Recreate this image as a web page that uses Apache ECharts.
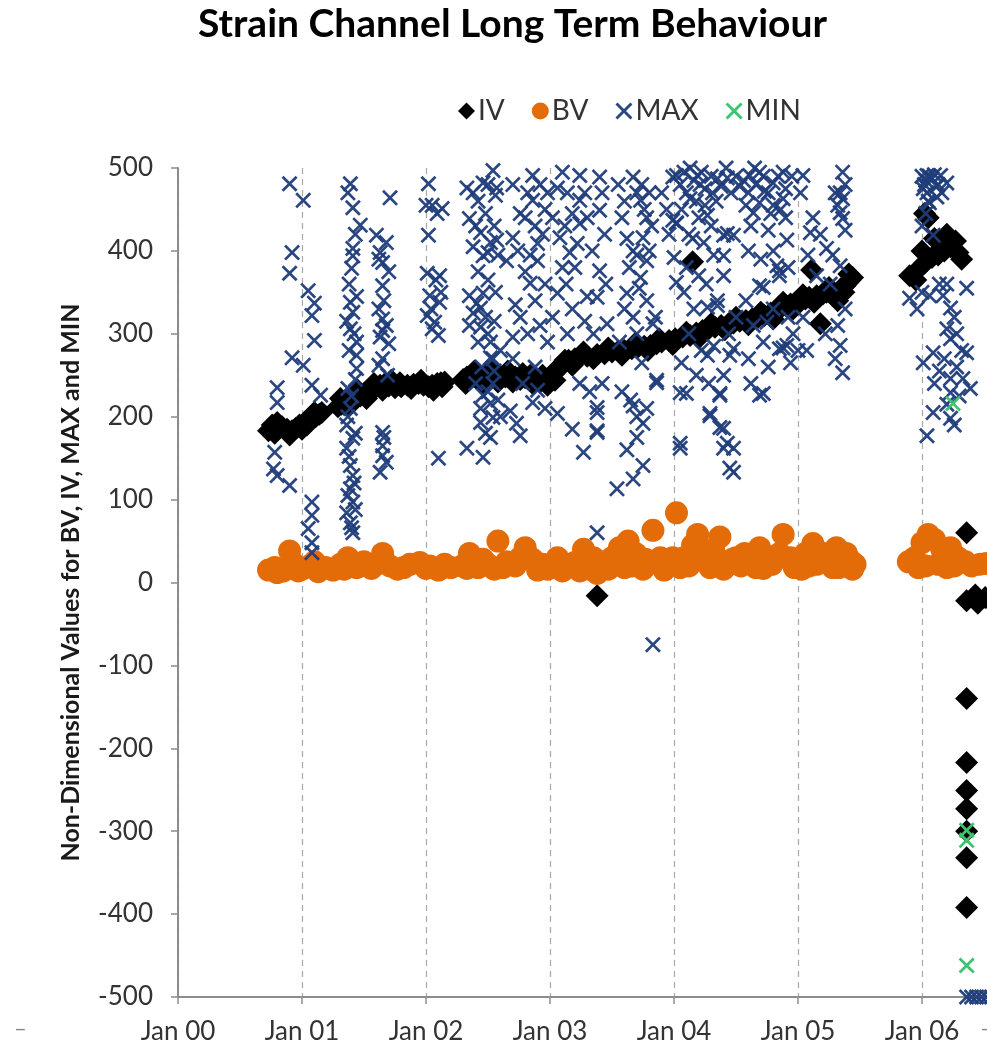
<!DOCTYPE html>
<html>
<head>
<meta charset="utf-8">
<script src="https://cdn.jsdelivr.net/npm/echarts@6/dist/echarts.min.js"></script>
<style>
html,body{margin:0;padding:0;background:#fff;}
#chart{width:987px;height:1048px;}
</style>
</head>
<body>
<div id="chart"></div>
<script>
// x values are years since Jan 2000
const tickLabels = ['Jan 00','Jan 01','Jan 02','Jan 03','Jan 04','Jan 05','Jan 06','Jan 07','Jan 08'];

const ivData = [
[0.73,183],[0.76,190],[0.78,180],[0.84,188],[0.88,185],[0.92,183],[0.95,186],[0.98,190],[1.02,193],
[1.05,197],[1.08,198],[1.11,200],[1.14,203],[1.16,205],
[0.80,193],[0.90,178],[1.00,185],[1.10,205],[1.04,190],
[1.29,212],[1.32,215],[1.35,218],[1.40,222],[1.43,224],[1.47,225],[1.50,228],[1.53,230],[1.57,233],
[1.60,236],[1.63,238],[1.67,240],[1.70,237],[1.75,235],[1.80,236],
[1.85,238],[1.90,239],[1.94,240],[1.98,238],[2.02,236],[2.05,238],[2.09,240],[2.12,241],[2.15,242],
[2.30,245],[2.33,248],[2.37,250],[2.40,247],[2.44,246],[2.48,250],
[2.52,252],[2.56,250],[2.60,248],[2.64,248],[2.68,250],[2.72,248],[2.76,245],[2.80,247],[2.84,250],
[2.88,246],[2.92,242],[2.96,245],[3.00,248],[3.03,252],[3.06,258],[3.10,262],
[3.15,268],[3.20,270],[3.24,272],[3.30,273],[3.38,275],[3.38,-16],[3.44,276],[3.50,278],[3.55,279],
[3.60,280],[3.66,282],[3.71,284],[3.76,285],[3.81,286],[3.86,288],
[3.90,290],[3.96,292],[4.01,294],[4.07,296],[4.13,298],[4.15,387],[4.18,301],[4.23,304],[4.28,306],
[4.33,308],[4.38,310],[4.44,312],[4.48,313],[4.53,315],[4.58,316],
[4.63,318],[4.68,320],[4.73,322],[4.78,325],[4.82,328],[4.86,331],[4.90,334],[4.94,336],[4.98,338],
[5.02,340],[5.06,342],[5.09,344],[5.11,377],[5.15,346],
[5.18,312],[5.20,348],[5.23,350],[5.27,352],[5.30,345],[5.33,348],[5.35,355],[5.38,358],[5.40,362],
[5.42,365],[5.44,368],
[1.31,222],[1.38,213],[1.45,232],[1.52,222],[1.58,240],[1.65,232],[1.72,244],[1.79,241],[1.88,234],
[1.96,244],[2.06,232],[2.13,236],[2.32,240],[2.39,255],[2.46,240],[2.54,256],[2.58,242],[2.66,255],
[2.70,242],[2.78,252],[2.86,240],[2.94,250],[2.98,238],[3.04,244],[3.12,268],[3.18,262],[3.27,278],
[3.35,270],[3.47,283],[3.58,274],[3.69,289],[3.79,280],[3.88,294],[3.99,287],[4.10,302],[4.20,295],
[4.30,312],[4.41,305],[4.50,320],[4.60,311],[4.70,326],[4.80,318],[4.88,338],[4.96,330],[5.04,347],
[5.13,338],[5.25,356],[5.32,340],[5.37,350],[5.41,372],
[5.90,370],[5.95,365],[5.97,378],[6.00,400],[6.02,445],[6.05,440],[6.02,385],[6.08,392],
[6.10,415],[6.13,395],[6.18,400],[6.20,420],[6.23,405],[6.27,412],[6.29,398],[6.32,390],
[6.36,60],[6.36,-22],[6.36,-140],[6.36,-217],[6.36,-251],[6.36,-273],[6.36,-300],[6.36,-332],[6.36,-392],
[6.43,-15],[6.45,-25],[6.51,-18],[6.55,-22]
];

const bvData = [
[0.73,15],[0.78,18],[0.85,14],[0.90,38],[0.94,22],[1.00,16],[1.06,20],[1.13,13],[1.19,18],
[1.31,22],[1.37,30],[1.44,18],[1.50,25],[1.56,17],[1.65,35],[1.71,20],[1.77,16],[1.87,22],
[1.95,24],[2.03,20],[2.10,15],[2.15,22],[2.29,20],[2.35,35],[2.42,18],[2.50,22],[2.58,50],
[2.65,25],[2.72,20],[2.80,42],[2.86,28],[2.94,22],[3.00,20],[3.06,30],[3.13,18],[3.20,24],
[3.27,40],[3.32,16],[3.38,11],[3.44,25],[3.50,30],[3.56,42],[3.63,50],[3.69,35],[3.77,28],
[3.83,63],[3.89,30],[3.95,20],[4.02,84],[4.08,30],[4.15,45],[4.19,58],[4.26,25],[4.32,40],
[4.37,55],[4.44,22],[4.50,30],[4.57,35],[4.63,28],[4.69,42],[4.76,25],[4.81,30],[4.88,58],
[4.94,30],[5.00,22],[5.06,35],[5.12,47],[5.18,28],[5.24,25],[5.31,42],[5.36,30],[5.42,27],[5.46,22],
[3.60,18],[3.75,16],[4.05,18],[4.40,16],[4.72,17],[5.03,16],[5.28,18],[2.55,16],[2.90,15],[3.10,14],
[0.80,12],[0.97,14],[1.10,25],[1.25,15],[1.34,16],[1.47,20],[1.60,22],[1.82,18],[2.00,17],[2.20,18],
[2.33,17],[2.46,28],[2.62,18],[2.76,30],[2.98,16],[3.16,22],[3.24,14],[3.35,30],[3.47,16],[3.53,22],
[3.66,20],[3.80,25],[3.92,15],[3.99,30],[4.12,20],[4.22,35],[4.29,18],[4.47,28],[4.54,20],[4.66,18],
[4.79,22],[4.85,35],[4.97,18],[5.09,20],[5.15,22],[5.21,35],[5.33,18],[5.39,35],[5.44,16],
[5.89,25],[5.94,30],[6.00,48],[6.05,58],[6.10,52],[6.16,40],[6.23,42],[6.29,30],[6.35,25],
[6.40,20],[6.47,22],[6.52,23],[6.03,20],[6.20,18],[5.97,18],[6.13,22],[6.26,20]
];

const maxData = [
[0.90,481],[1.01,461],[0.92,398],[0.90,373],[1.05,352],[1.10,337],[1.08,322],[1.10,292],
[0.92,271],[1.01,262],[1.08,238],[0.80,235],[0.80,217],[1.15,226],[0.78,157],[0.77,137],
[0.80,129],[0.90,117],[1.08,97],[1.08,81],[1.05,65],[1.08,48],[1.08,36],
[1.39,481],[1.41,452],[1.47,431],[1.41,403],[1.41,394],[1.40,379],[1.39,338],[1.41,326],
[1.39,306],[1.44,290],[1.44,274],[1.44,258],[1.37,234],[1.39,210],[1.36,190],[1.41,174],
[1.36,162],[1.39,141],[1.41,129],[1.39,113],[1.41,97],[1.36,84],[1.39,72],[1.41,60],
[1.37,470],[1.43,420],[1.38,360],[1.44,345],[1.36,315],[1.42,300],[1.38,280],[1.43,245],
[1.40,225],[1.37,200],[1.43,180],[1.38,152],[1.42,120],[1.37,105],[1.43,88],[1.40,66],
[1.71,464],[1.60,419],[1.63,398],[1.65,386],[1.65,358],[1.65,318],[1.65,304],[1.63,296],
[1.65,270],[1.69,250],[1.65,181],[1.65,165],[1.65,153],[1.63,133],
[1.68,410],[1.62,390],[1.70,375],[1.66,340],[1.62,330],[1.68,310],[1.70,288],[1.62,262],
[1.66,175],[1.68,145],
[2.02,481],[2.05,455],[2.13,451],[2.02,419],[2.01,373],[2.11,370],[2.03,346],[2.11,338],
[2.01,322],[2.05,306],[2.10,298],[2.10,150],
[2.08,365],[2.04,330],[2.12,350],[2.07,314],[2.00,455],[2.09,445],
[2.33,476],[2.46,482],[2.56,467],[2.35,439],[2.44,422],[2.52,410],[2.46,394],[2.35,346],
[2.44,331],[2.35,310],[2.52,290],[2.54,270],[2.46,226],[2.44,193],[2.33,162],[2.46,151],
[2.38,470],[2.42,460],[2.50,480],[2.40,430],[2.48,445],[2.55,430],[2.38,405],[2.50,398],
[2.58,395],[2.42,375],[2.50,365],[2.56,350],[2.38,325],[2.48,320],[2.55,315],[2.42,290],
[2.50,300],[2.60,280],[2.45,260],[2.55,255],[2.40,240],[2.50,230],[2.58,220],[2.44,210],
[2.60,200],[2.48,180],[2.52,175],
[2.54,497],[2.57,476],[2.86,491],[2.86,461],[3.06,476],[3.02,440],[3.08,416],[3.10,380],
[3.06,349],[3.02,320],[3.24,491],[3.24,461],[3.24,433],[3.22,409],[3.40,489],[3.40,449],
[3.40,376],[3.38,344],[3.46,312],[2.76,445],[2.70,416],[2.57,413],[2.65,388],[2.90,409],
[2.90,388],[2.84,361],[2.76,320],[2.70,296],[2.46,349],[2.41,337],[2.44,308],[2.52,271],
[2.54,240],[2.52,216],[2.54,199],[2.68,207],[2.73,192],[2.90,232],[3.06,204],[3.24,240],
[3.38,211],[3.38,183],[3.10,495],[2.98,470],
[2.70,480],[2.82,470],[2.92,480],[2.80,440],[2.88,430],[2.96,450],[2.74,400],[2.84,395],
[2.94,420],[2.80,375],[2.96,360],[2.88,340],[2.72,335],[2.92,310],[2.82,300],[2.98,290],
[2.70,270],[2.88,260],[2.78,240],[2.96,210],
[3.14,470],[3.18,445],[3.12,430],[3.16,398],[3.28,470],[3.30,440],[3.20,380],[3.13,360],
[3.30,345],[3.18,330],[3.28,315],[3.35,300],[3.14,300],[3.42,470],[3.44,420],[3.34,400],
[3.45,360],[3.32,230],[3.42,240],[3.18,185],
[3.67,489],[3.73,461],[3.78,440],[3.75,416],[3.67,400],[3.78,388],[3.73,368],[3.62,349],
[3.67,320],[3.83,312],[3.65,220],[3.75,192],[3.70,175],[3.86,244],[3.99,489],[3.99,437],
[3.54,113],[3.67,125],[3.75,141],[3.67,213],[3.86,241],[3.27,157],[3.38,181],[3.38,205],
[3.38,60],[2.76,177],[2.86,217],[3.83,-75],
[3.55,480],[3.60,460],[3.58,440],[3.62,415],[3.70,470],[3.74,480],[3.76,450],[3.80,470],
[3.82,430],[3.64,380],[3.70,395],[3.80,400],[3.72,355],[3.78,340],[3.60,330],[3.85,320],
[3.70,300],[3.56,290],[3.90,470],[3.94,450],[3.96,420],[3.58,230],[3.70,200],[3.62,160],
[3.78,210],[3.74,265],
[4.05,162],[4.05,229],[4.37,226],[4.29,201],[4.40,186],[4.40,162],[4.45,138],[4.27,274],
[4.45,274],[4.35,334],[4.40,370],[4.02,491],[4.19,491],[4.35,487],[4.13,463],[4.27,443],
[4.40,419],[4.15,415],[4.02,434],[4.02,362],[4.40,394],
[4.02,433],[4.10,380],[4.00,392],[4.27,332],[4.35,340],[4.43,421],[4.91,413],[4.85,376],
[4.72,356],[4.88,283],[5.07,280],[4.10,228],[4.37,228],[4.72,228],[4.29,204],[4.37,187],
[4.43,168],[4.05,168],
[4.05,480],[4.08,495],[4.10,470],[4.16,485],[4.18,460],[4.22,495],[4.25,475],[4.30,490],
[4.34,460],[4.38,478],[4.42,500],[4.46,470],[4.50,490],[4.20,440],[4.30,430],[4.06,450],
[4.12,420],[4.24,410],[4.32,395],[4.20,370],[4.08,350],[4.16,330],[4.26,360],[4.12,300],
[4.22,280],[4.32,285],[4.44,300],[4.50,320],[4.06,265],[4.18,250],[4.40,250],[4.28,240],
[4.13,500],[4.21,480],[4.31,470],[4.43,488],[4.53,478],[4.65,500],[4.73,472],[4.25,455],
[4.61,491],[4.69,495],[4.80,482],[4.88,495],[4.69,458],[4.80,455],[4.88,463],[4.64,446],
[4.48,419],[4.83,382],[4.85,370],[4.69,358],[4.75,314],[4.72,290],[4.85,282],[4.91,286],
[4.48,282],[4.69,226],[4.48,162],[4.48,133],
[4.56,485],[4.60,470],[4.66,480],[4.72,490],[4.76,470],[4.84,490],[4.90,475],[4.58,455],
[4.78,445],[4.86,450],[4.62,430],[4.76,425],[4.90,440],[4.95,490],[4.60,400],[4.70,390],
[4.80,400],[4.92,380],[4.58,340],[4.64,310],[4.80,330],[4.92,320],[4.96,300],[4.60,270],
[4.76,260],[4.94,265],[4.62,240],
[5.04,491],[5.10,422],[5.23,403],[5.34,382],[5.34,286],[5.36,253],[5.36,495],[5.34,470],
[5.36,463],[5.34,446],[5.36,439],
[5.02,470],[5.12,440],[5.18,420],[5.08,395],[5.28,395],[5.15,370],[5.26,360],[5.04,320],
[5.22,300],[5.32,310],[5.38,330],[5.30,470],[5.38,480],[5.32,455],[5.38,425],[5.30,270],[5.00,280],
[6.04,491],[6.15,491],[6.20,482],[6.04,470],[6.06,458],[6.09,419],[5.90,343],[6.06,346],
[6.17,346],[6.36,355],[6.23,331],[6.20,306],[6.23,294],[6.09,277],[6.01,265],[6.36,277],
[6.23,246],[6.33,246],[6.39,234],[6.23,229],[6.09,205],[6.23,198],[6.04,177],
[6.08,487],[6.12,478],[6.02,480],
[6.00,490],[6.03,485],[6.06,490],[6.10,492],[6.13,480],[6.01,475],[6.05,460],[6.12,465],
[6.16,470],[6.03,445],[6.00,430],[6.14,360],[6.00,350],[6.20,360],[6.26,320],[6.28,300],
[6.32,280],[6.18,270],[6.14,255],[6.28,260],[6.30,225],[6.20,215],[6.26,190],[6.10,240],[5.96,330],
[6.36,-500],[6.40,-500],[6.44,-500],[6.48,-500],[6.52,-500],[6.56,-500]
];

const minData = [
[6.25,216],[6.36,-299],[6.36,-311],[6.36,-462]
];

const crossPath = 'path://M0,1.2L1.2,0L5,3.8L8.8,0L10,1.2L6.2,5L10,8.8L8.8,10L5,6.2L1.2,10L0,8.8L3.8,5Z';
const FONT = 'Lato, "Open Sans", sans-serif';
const TXT = '#333333';

const chart = echarts.init(document.getElementById('chart'), null, {renderer: 'canvas'});
chart.setOption({
  animation: false,
  backgroundColor: '#ffffff',
  title: {
    text: 'Strain Channel Long Term Behaviour',
    left: 193, top: 0,
    textStyle: {fontFamily: FONT, fontWeight: 'bold', fontSize: 39, color: '#000'}
  },
  legend: {
    left: 453, top: 92,
    itemWidth: 17, itemHeight: 17, itemGap: 27,
    textStyle: {fontFamily: FONT, fontSize: 28, color: TXT, padding: [0,0,0,-2]},
    data: ['IV','BV','MAX','MIN']
  },
  graphic: [
    {type: 'text', left: 14, top: 1018, style: {text: '–', fill: '#888', font: '22px Lato'}},
    {type: 'text', left: 980, top: 1018, style: {text: '–', fill: '#888', font: '22px Lato'}}
  ],
  grid: {left: 178, top: 168, bottom: 51, right: -183, containLabel: false, outerBoundsMode: 'none'},
  xAxis: {
    type: 'value', min: 0, max: 8, interval: 1,
    axisLine: {show: true, onZero: false, lineStyle: {color: '#8c8c8c', width: 2}},
    axisTick: {show: true, length: 7, lineStyle: {color: '#8c8c8c', width: 1.5}},
    splitLine: {show: true, lineStyle: {color: '#a8a8a8', type: [6, 5], width: 1.2}},
    axisLabel: {
      margin: 22, fontFamily: FONT, fontSize: 26, color: TXT,
      formatter: v => tickLabels[Math.round(v)]
    }
  },
  yAxis: {
    type: 'value', min: -500, max: 500, interval: 100,
    name: 'Non-Dimensional Values for BV, IV, MAX and MIN',
    nameLocation: 'middle', nameGap: 95, nameRotate: 90,
    nameTextStyle: {fontFamily: FONT, fontWeight: 'bold', fontSize: 25, color: '#1a1a1a'},
    axisLine: {show: true, lineStyle: {color: '#8c8c8c', width: 2}},
    axisTick: {show: true, length: 7, lineStyle: {color: '#8c8c8c', width: 1.5}},
    splitLine: {show: false},
    axisLabel: {margin: 25, fontFamily: FONT, fontSize: 26, color: TXT}
  },
  series: [
    {name: 'IV', type: 'scatter', data: ivData, symbol: 'diamond', symbolSize: 23,
     itemStyle: {color: '#000000', opacity: 1}, z: 2},
    {name: 'BV', type: 'scatter', data: bvData, symbol: 'circle', symbolSize: 23,
     itemStyle: {color: '#e36c09', opacity: 1}, z: 3},
    {name: 'MAX', type: 'scatter', data: maxData, symbol: crossPath, symbolSize: 16,
     itemStyle: {color: '#203d7a', opacity: 0.95}, z: 4},
    {name: 'MIN', type: 'scatter', data: minData, symbol: crossPath, symbolSize: 16,
     itemStyle: {color: '#3cc46e', opacity: 1}, z: 5}
  ]
});
</script>
</body>
</html>
